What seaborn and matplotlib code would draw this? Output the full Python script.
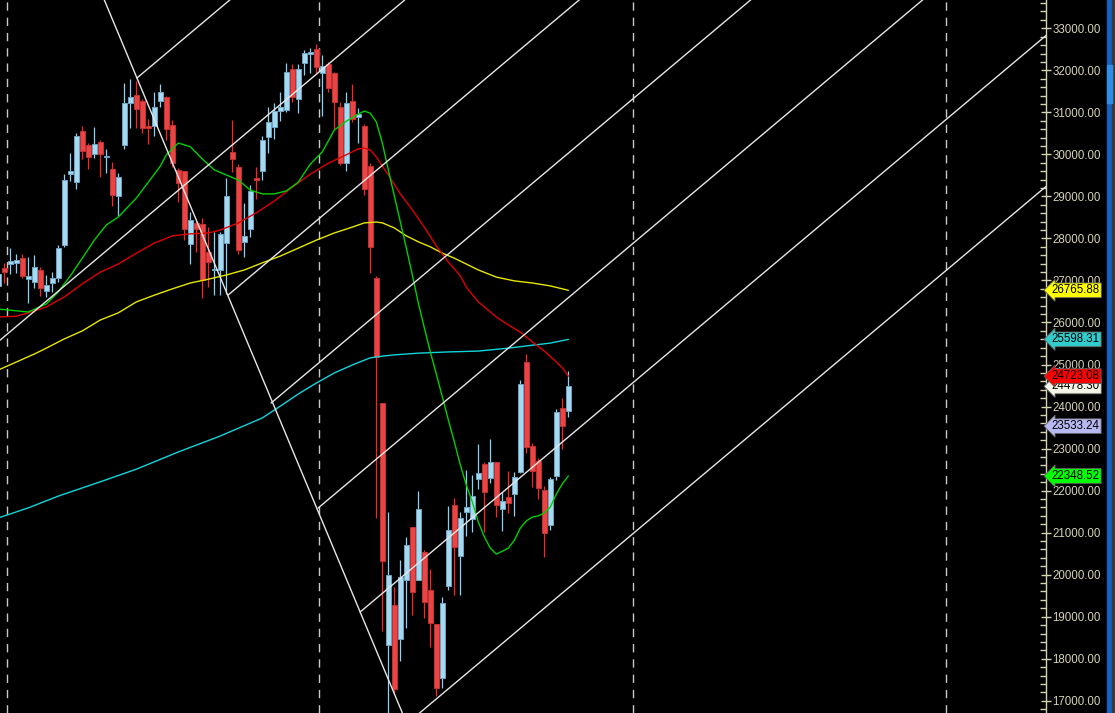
import matplotlib
matplotlib.use("Agg")
import matplotlib.pyplot as plt
import matplotlib.transforms as mtransforms
from matplotlib.patches import Rectangle
from matplotlib.ticker import MultipleLocator, FormatStrFormatter
import pandas as pd
import seaborn as sns

# weekly candles (index = week number)
opens = [26870, 27300, 27390, 27420, 27530, 27030, 26960, 27250, 26750, 26940,
         27060, 27840, 29530, 29340, 30560, 30220, 30010, 30290, 29940, 29650,
         29010, 30220, 31220, 31410, 31270, 30680, 30680, 31270, 31370, 30700,
         29630, 29600, 27870, 28370, 28340, 27680, 27250, 27250, 27890, 30060,
         29700, 27920, 28220, 29440, 29600, 30410, 30650, 31030, 31060, 32030,
         31320, 32170, 32390, 32510, 31940, 32150, 31940, 31130, 29790, 31270,
         30890, 30680, 29720, 27060, 24080, 18330, 19280, 18470, 19870, 21130,
         19870, 20540, 19640, 18830, 17540, 19730, 21660, 20440, 21490, 21320,
         22280, 22630, 22300, 22680, 21560, 21850, 21920, 22440, 25060, 23060,
         22700, 22010, 21180, 22350, 23970, 23890]
highs = [27340, 27420, 27770, 27630, 27630, 27560, 27610, 27320, 27130, 27200,
         27840, 29530, 30030, 30510, 30680, 30270, 30650, 30340, 30130, 29820,
         29560, 31700, 31790, 31750, 31320, 30840, 31480, 31670, 31390, 30820,
         29680, 29600, 28630, 28410, 28490, 28270, 28150, 28150, 29440, 30820,
         29770, 28840, 29270, 29700, 30440, 31130, 31220, 31480, 32170, 32150,
         32150, 32480, 32530, 32630, 32360, 32200, 31960, 31250, 31480, 31670,
         31100, 30720, 29790, 27110, 24080, 21490, 19710, 20350, 20900, 21130,
         21990, 20590, 20130, 18830, 19470, 21630, 21820, 21490, 22490, 22370,
         23110, 22680, 23230, 22680, 21970, 22470, 22440, 24630, 25250, 23130,
         22780, 22110, 22320, 23940, 24200, 24850]
lows = [26730, 26940, 27150, 27180, 27060, 26460, 26820, 26630, 26610, 26730,
        26960, 27800, 29370, 29180, 29890, 29650, 29910, 29460, 29560, 28770,
        28530, 30130, 30630, 30630, 30510, 30250, 30440, 31130, 30340, 29700,
        28870, 27960, 27390, 27680, 26580, 26840, 26650, 26650, 26680, 29580,
        27630, 27560, 28030, 28940, 29390, 30030, 30370, 30790, 31010, 31250,
        30980, 31890, 31940, 31940, 30910, 31480, 30600, 29750, 29600, 30770,
        30270, 29030, 27180, 21350, 18660, 16540, 17180, 17950, 18730, 19040,
        19870, 18970, 18280, 17110, 17300, 19640, 19520, 19520, 20920, 21020,
        22040, 21020, 22180, 21370, 21040, 21470, 21400, 22420, 22890, 22090,
        21800, 20420, 21060, 22250, 22990, 23750]
closes = [27150, 27200, 27460, 27490, 27110, 27110, 27320, 26820, 26890, 27060,
          27770, 29390, 29600, 30440, 30080, 29940, 30250, 30010, 29960, 29030,
          29460, 31220, 31370, 31080, 30630, 30630, 31130, 31480, 30600, 29790,
          29320, 28220, 28440, 28220, 27010, 27440, 27270, 28110, 29010, 29890,
          27720, 28060, 29130, 29390, 30340, 30770, 31030, 31130, 31960, 31370,
          32030, 32410, 32440, 32080, 32100, 31580, 31250, 29790, 31220, 30840,
          30960, 29180, 27800, 25180, 20330, 19990, 17280, 19940, 20710, 19590,
          21560, 19350, 18850, 17300, 19330, 21060, 20660, 21350, 21610, 21870,
          22420, 21970, 22680, 21660, 21750, 21710, 22320, 24540, 23040, 22470,
          22060, 20990, 22280, 23870, 23540, 24478.30]

# moving averages at selected weeks
ma_fast_idx = [0, 5, 8, 10, 12, 14, 16, 18, 20, 23, 25, 27, 28, 30, 32, 34, 36, 38,
               40, 42, 44, 46, 48, 50, 52, 54, 56, 58, 60, 61, 62, 63, 64, 65, 66,
               67, 68, 69, 70, 71, 72, 73, 74, 75, 76, 77, 78, 79, 80, 81, 82, 83,
               84, 85, 86, 87, 88, 89, 90, 91, 92, 93, 94, 95]
ma_fast = [26320, 26250, 26440, 26730, 27110, 27530, 27960, 28320, 28510, 28960,
           29340, 29720, 29990, 30270, 30180, 29890, 29630, 29510, 29390, 29150,
           29060, 29060, 29130, 29340, 29770, 30060, 30580, 30790, 30960, 31030,
           30980, 30770, 30270, 29630, 29010, 28390, 27770, 27130, 26460, 25870,
           25300, 24770, 24230, 23680, 23160, 22610, 22130, 21730, 21250, 20900,
           20630, 20490, 20560, 20630, 20820, 21110, 21280, 21370, 21400, 21470,
           21610, 21920, 22160, 22348.52]
ma_mid_idx = [0, 3, 5, 8, 11, 14, 17, 20, 23, 26, 29, 32, 35, 37, 40, 43, 46, 49,
              52, 55, 58, 60, 61, 62, 63, 64, 65, 67, 69, 71, 73, 75, 77, 78, 80,
              83, 85, 87, 89, 91, 93, 94, 95]
ma_mid = [26130, 26150, 26230, 26370, 26610, 26920, 27200, 27390, 27650, 27890,
          28060, 28110, 28130, 28200, 28370, 28610, 28890, 29220, 29530, 29790,
          29990, 30130, 30150, 30100, 29940, 29720, 29510, 29060, 28680, 28270,
          27820, 27440, 27110, 26840, 26490, 26130, 25940, 25770, 25540, 25320,
          25060, 24920, 24723.08]
ma_slow_idx = [0, 3, 6, 8, 11, 14, 17, 20, 23, 26, 29, 32, 35, 38, 41, 44, 47, 50,
               53, 56, 59, 61, 63, 64, 66, 68, 70, 72, 74, 76, 78, 80, 83, 86, 89,
               92, 95]
ma_slow = [24870, 25060, 25250, 25390, 25610, 25800, 26060, 26230, 26490, 26650,
           26800, 26940, 27030, 27130, 27250, 27420, 27580, 27770, 27960, 28130,
           28270, 28370, 28390, 28370, 28250, 28060, 27920, 27800, 27650, 27530,
           27390, 27250, 27080, 26990, 26940, 26870, 26765.88]
ma_long_idx = [0, 5, 10, 17, 23, 30, 37, 44, 47, 50, 53, 56, 59, 62, 64, 66, 70,
               75, 80, 85, 89, 92, 95]
ma_long = [21350, 21590, 21870, 22210, 22510, 22920, 23300, 23730, 24010, 24300,
           24560, 24800, 24990, 25160, 25200, 25230, 25270, 25300, 25320, 25390,
           25460, 25510, 25598.31]

# trend lines: one falling line and a set of parallel rising lines
fall_idx = [23.1, 60.3]
fall_price = [31817, 19112]
chan_idx = [23.1, 38.3, 45.45, 53.3, 60.3, 68.1]
chan_price = [31817, 26654, 24084, 21586, 19112, 16456]
chan_through = (41.95, 30580)   # the one that runs across the whole chart
chan_slope = 120                # price per week

year_lines = [1.45, 53.5, 105.7, 157.9]

tag_vals = [26765.88, 25598.31, 24478.30, 24723.08, 23533.24, 22348.52]
tag_colors = ["#ffff00", "#33cccc", "#f4f4e6", "#ff0000", "#b8b8f2", "#00ff00"]

sns.set_theme(style="dark", rc={"axes.facecolor": "black", "figure.facecolor": "black"})
plt.rcParams["font.family"] = ["Liberation Sans", "DejaVu Sans"]

W, H = 1115, 713
fig = plt.figure(figsize=(W / 100, H / 100), dpi=100)
ax = fig.add_axes([0, 0, 1046 / W, 1])
ax.set_facecolor("black")

df = pd.DataFrame({"open": opens, "high": highs, "low": lows, "close": closes})
df["week"] = range(len(df))
up = df["close"] >= df["open"]

# candles
wick_col = ["#8fd0f5" if u else "#ff2424" for u in up]
body_col = ["#a9d8ee" if u else "#e84646" for u in up]
edge_col = ["#6aa6c8" if u else "#c43030" for u in up]
ax.vlines(df["week"], df["low"], df["high"], colors=wick_col, lw=0.9, zorder=3)
ax.bar(df["week"], (df["close"] - df["open"]).abs().clip(lower=15),
       bottom=df[["open", "close"]].min(axis=1), width=0.8,
       color=body_col, edgecolor=edge_col, linewidth=0.7, zorder=4)

# moving averages
for xs, ys, col in [(ma_long_idx, ma_long, "#10d4dc"),
                    (ma_slow_idx, ma_slow, "#e6e600"),
                    (ma_mid_idx, ma_mid, "#e00000"),
                    (ma_fast_idx, ma_fast, "#00d000")]:
    sns.lineplot(x=xs, y=ys, ax=ax, color=col, lw=1.0, zorder=5)

# trend lines
lc = "#e6e6e6"
ax.axline((fall_idx[0], fall_price[0]), (fall_idx[1], fall_price[1]), color=lc, lw=1, zorder=6)
ax.axline(chan_through, slope=chan_slope, color=lc, lw=1, zorder=6)
for x0, p0 in zip(chan_idx, chan_price):
    ax.plot([x0, 250], [p0, p0 + chan_slope * (250 - x0)], color=lc, lw=1, zorder=6)

for x in year_lines:
    ax.axvline(x, color="#c8c8c8", lw=1, ls=(0, (6, 5)), zorder=1)

ax.set_xlim(0.28, 174.6)
ax.set_ylim(16709, 33673)
ax.grid(False)
ax.set_xticks([])

# price axis on the right
tc = "#d6d2b6"
ax.yaxis.tick_right()
ax.yaxis.set_major_locator(MultipleLocator(1000))
ax.yaxis.set_minor_locator(MultipleLocator(200))
ax.yaxis.set_major_formatter(FormatStrFormatter("%.2f"))
ax.tick_params(axis="y", which="major", direction="inout", length=7, width=1,
               color=tc, labelcolor=tc, labelsize=8.3, pad=1, right=True, left=False)
ax.tick_params(axis="y", which="minor", direction="in", length=4, width=1,
               color=tc, right=True, left=False)
for s in ["top", "bottom", "left"]:
    ax.spines[s].set_visible(False)
ax.spines["right"].set_color(tc)
ax.spines["right"].set_linewidth(1)

# last-value tags
trans = mtransforms.blended_transform_factory(ax.transAxes, ax.transData)
for z, (v, c) in enumerate(zip(tag_vals, tag_colors)):
    ax.text(1.0055, v, f"{v:.2f}", transform=trans, ha="left", va="center",
            fontsize=8.3, color="black", zorder=10 + z,
            bbox=dict(boxstyle="larrow,pad=0.12", fc=c, ec="#606060", lw=0.6))

# scroll strip at the right edge
fig.patches.append(Rectangle((1107 / W, 0), 5 / W, 1, transform=fig.transFigure,
                             color="#1560c0", zorder=0))
fig.patches.append(Rectangle((1107 / W, (H - 103) / H), 5 / W, 38 / H,
                             transform=fig.transFigure, color="#2f8ee6", zorder=1))
fig.patches.append(Rectangle((1112 / W, 0), 3 / W, 1, transform=fig.transFigure,
                             color="#3a3a3a", zorder=0))

fig.savefig("out.png", dpi=100, facecolor="black")
